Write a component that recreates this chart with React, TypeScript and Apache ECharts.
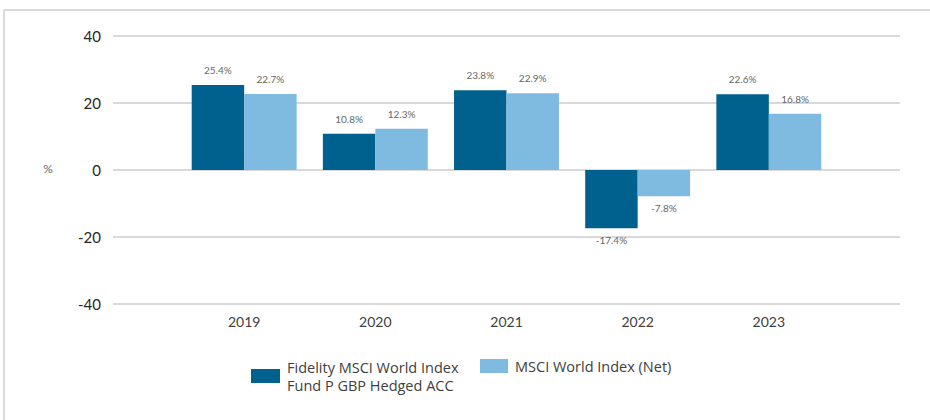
import React, { useEffect, useRef } from "react";
import * as echarts from "echarts";

const years = ["2019", "2020", "2021", "2022", "2023"];
const fundValues = [25.4, 10.8, 23.8, -17.4, 22.6];
const indexValues = [22.7, 12.3, 22.9, -7.8, 16.8];
const yTicks = { min: -40, max: 40, interval: 20 };
const fundName = "Fidelity MSCI World Index\nFund P GBP Hedged ACC";
const indexName = "MSCI World Index (Net)";
const unitLabel = "%";

const DARK = "#00618f";
const LIGHT = "#7fbbe1";
const FONT = "Lato, 'Open Sans', sans-serif";
const LEGEND_FONT = "'Open Sans', Lato, sans-serif";

export default function App() {
  const ref = useRef<HTMLDivElement>(null);
  useEffect(() => {
    if (!ref.current) return;
    const chart = echarts.init(ref.current, undefined, { renderer: "svg" });
    const cats = ["", ...years, ""];
    const mk = (vals: number[]) => [
      null,
      ...vals.map((v) => ({
        value: v,
        label: { position: v < 0 ? "bottom" : "top", distance: v < 0 ? 7 : 10 },
      })),
      null,
    ];
    const labelCfg = {
      show: true,
      fontSize: 10,
      color: "#666666",
      fontFamily: FONT,
      formatter: (p: any) => Number(p.value).toFixed(1) + "%",
    };
    chart.setOption({
      animation: false,
      textStyle: { fontFamily: FONT },
      grid: { left: 113, right: 30, top: 36, bottom: 116, containLabel: false },
      xAxis: {
        type: "category",
        data: cats,
        boundaryGap: false,
        axisLine: { show: false },
        axisTick: { show: false },
        splitLine: { show: false },
        axisLabel: { color: "#404040", fontSize: 14, margin: 10, fontFamily: FONT },
      },
      yAxis: {
        type: "value",
        min: yTicks.min,
        max: yTicks.max,
        interval: yTicks.interval,
        axisLine: { show: false },
        axisTick: { show: false },
        axisLabel: { color: "#262626", fontSize: 15, margin: 12, fontFamily: FONT },
        splitLine: { lineStyle: { color: "#d9d9d9", width: 2 } },
      },
      legend: [
        {
          data: [fundName],
          left: 251,
          top: 358,
          padding: 0,
          itemWidth: 29,
          itemHeight: 14,
          icon: "rect",
          selectedMode: false,
          textStyle: { fontSize: 14.5, lineHeight: 18, color: "#404040", fontFamily: LEGEND_FONT, padding: [0, 0, 0, 2] },
        },
        {
          data: [indexName],
          left: 480,
          top: 357,
          padding: 0,
          itemWidth: 28,
          itemHeight: 14,
          icon: "rect",
          selectedMode: false,
          textStyle: { fontSize: 14.5, lineHeight: 18, color: "#404040", fontFamily: LEGEND_FONT, padding: [0, 0, 0, 2] },
        },
      ],
      graphic: [
        { type: "line", shape: { x1: 4, y1: 10, x2: 930, y2: 10 }, style: { stroke: "#d9d9d9", lineWidth: 2 }, silent: true },
        { type: "line", shape: { x1: 4, y1: 10, x2: 4, y2: 420 }, style: { stroke: "#d9d9d9", lineWidth: 2 }, silent: true },
        {
          type: "text",
          x: 48,
          y: 168,
          style: { text: unitLabel, fill: "#666666", fontSize: 12, fontFamily: FONT, textAlign: "center", textVerticalAlign: "middle" },
          silent: true,
        },
      ],
      series: [
        {
          name: fundName,
          type: "bar",
          data: mk(fundValues),
          itemStyle: { color: DARK },
          barGap: "0%",
          barCategoryGap: "20%",
          label: labelCfg,
        },
        {
          name: indexName,
          type: "bar",
          data: mk(indexValues),
          itemStyle: { color: LIGHT },
          barGap: "0%",
          barCategoryGap: "20%",
          label: labelCfg,
        },
      ],
    });
    return () => chart.dispose();
  }, []);
  return (
    <div
      ref={ref}
      style={{ position: "fixed", left: 0, top: 0, width: 930, height: 420, background: "#ffffff" }}
    />
  );
}
